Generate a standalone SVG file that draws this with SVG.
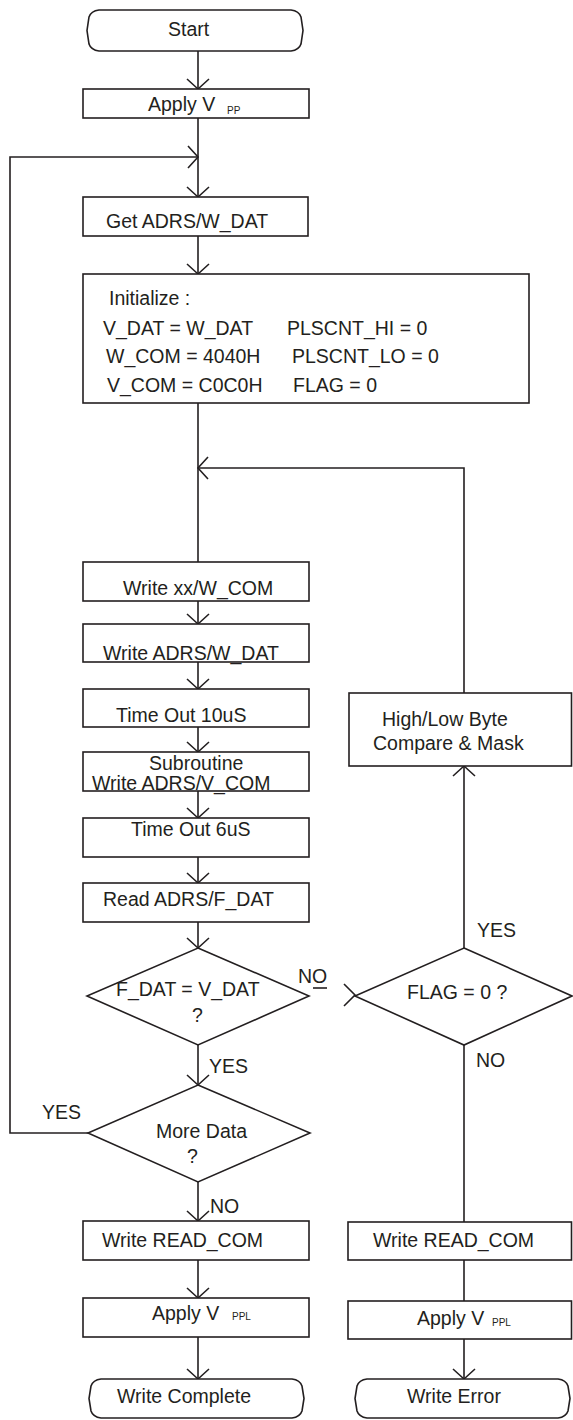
<svg xmlns="http://www.w3.org/2000/svg" width="573" height="1420" viewBox="0 0 573 1420">
<style>
.s{fill:#fff;stroke:#231f20;stroke-width:1.6}
.c{fill:none;stroke:#231f20;stroke-width:1.6}
text{font-family:"Liberation Sans",Arial,sans-serif;font-size:19.5px;fill:#231f20}
.sub{font-size:10px}
</style>
<defs>
<marker id="ah" markerUnits="userSpaceOnUse" orient="auto" refX="0" refY="0" markerWidth="30" markerHeight="30" overflow="visible">
<path d="M-10,-11 L0,0 L-10,11" fill="none" stroke="#231f20" stroke-width="1.6"/>
</marker>
</defs>
<rect width="573" height="1420" fill="#fff"/>
<g id="connectors">
<path class="c" d="M198,51 V89" marker-end="url(#ah)"/>
<path class="c" d="M198,118 V197" marker-end="url(#ah)"/>
<path class="c" d="M88,1133 H10 V157 H198" marker-end="url(#ah)"/>
<path class="c" d="M198,236 V274" marker-end="url(#ah)"/>
<path class="c" d="M198,403 V562"/>
<path class="c" d="M464,693 V468 H198" marker-end="url(#ah)"/>
<path class="c" d="M198,601 V624" marker-end="url(#ah)"/>
<path class="c" d="M198,662 V689" marker-end="url(#ah)"/>
<path class="c" d="M198,727 V752" marker-end="url(#ah)"/>
<path class="c" d="M198,791 V818" marker-end="url(#ah)"/>
<path class="c" d="M198,857 V883" marker-end="url(#ah)"/>
<path class="c" d="M198,922 V948" marker-end="url(#ah)"/>
<path class="c" d="M198,1045 V1085" marker-end="url(#ah)"/>
<path class="c" d="M198,1182 V1221" marker-end="url(#ah)"/>
<path class="c" d="M198,1260 V1298" marker-end="url(#ah)"/>
<path class="c" d="M198,1337 V1379" marker-end="url(#ah)"/>
<path class="c" d="M464,948 V766" marker-end="url(#ah)"/>
<path class="c" d="M464,1045 V1222"/>
<path class="c" d="M464,1260 V1301"/>
<path class="c" d="M464,1339 V1379" marker-end="url(#ah)"/>
<path class="c" d="M344,984 L355,995 L344,1006"/>
<path class="c" d="M313,988 H327"/>
<text x="298" y="983">NO</text>
<text x="477" y="937">YES</text>
<text x="476" y="1067">NO</text>
<text x="209" y="1073">YES</text>
<text x="42" y="1119">YES</text>
<text x="210" y="1213">NO</text>
</g>
<g id="start">
<path class="s" d="M99,10 H291 Q299,11 301,17 L303,30.5 L301,44 Q299,50 291,51 H99 Q91,50 89,44 L87,30.5 L89,17 Q91,11 99,10 Z"/>
<text x="168" y="36">Start</text>
</g>
<g id="apply-vpp">
<rect class="s" x="83" y="89" width="226" height="29"/>
<text x="148" y="111">Apply V</text>
<text class="sub" x="227" y="114">PP</text>
</g>
<g id="get-adrs">
<rect class="s" x="83" y="197" width="225" height="39"/>
<text x="106" y="228">Get ADRS/W_DAT</text>
</g>
<g id="initialize">
<rect class="s" x="83" y="274" width="446" height="129"/>
<text x="109" y="305">Initialize :</text>
<text x="103" y="335">V_DAT = W_DAT</text>
<text x="287" y="335">PLSCNT_HI = 0</text>
<text x="106" y="363">W_COM = 4040H</text>
<text x="292" y="363">PLSCNT_LO = 0</text>
<text x="107" y="392">V_COM = C0C0H</text>
<text x="293" y="392">FLAG = 0</text>
</g>
<g id="write-xx">
<rect class="s" x="83" y="562" width="226" height="39"/>
<text x="123" y="595">Write xx/W_COM</text>
</g>
<g id="write-adrs-wdat">
<rect class="s" x="83" y="624" width="226" height="38"/>
<text x="103" y="660">Write ADRS/W_DAT</text>
</g>
<g id="timeout-10">
<rect class="s" x="83" y="689" width="226" height="38"/>
<text x="116" y="722">Time Out 10uS</text>
</g>
<g id="subroutine">
<rect class="s" x="83" y="752" width="226" height="39"/>
<text x="149" y="770">Subroutine</text>
<text x="92" y="790">Write ADRS/V_COM</text>
</g>
<g id="timeout-6">
<rect class="s" x="83" y="818" width="226" height="39"/>
<text x="131" y="836">Time Out 6uS</text>
</g>
<g id="read-adrs">
<rect class="s" x="83" y="883" width="226" height="39"/>
<text x="103" y="906">Read ADRS/F_DAT</text>
</g>
<g id="fdat-check">
<polygon class="s" points="198,948 309,996 198,1045 87,996"/>
<text x="116" y="996">F_DAT = V_DAT</text>
<text x="192" y="1022">?</text>
</g>
<g id="more-data">
<polygon class="s" points="198,1085 310,1133 198,1182 88,1133"/>
<text x="156" y="1138">More Data</text>
<text x="187" y="1163">?</text>
</g>
<g id="write-read-com-left">
<rect class="s" x="83" y="1221" width="226" height="39"/>
<text x="102" y="1247">Write READ_COM</text>
</g>
<g id="apply-vppl-left">
<rect class="s" x="83" y="1298" width="226" height="39"/>
<text x="152" y="1320">Apply V</text>
<text class="sub" x="232" y="1320">PPL</text>
</g>
<g id="write-complete">
<path class="s" d="M101,1379 H292 Q300,1380 302,1386 L304,1398.5 L302,1411 Q300,1417 292,1418 H101 Q93,1417 91,1411 L89,1398.5 L91,1386 Q93,1380 101,1379 Z"/>
<text x="117" y="1403">Write Complete</text>
</g>
<g id="high-low">
<rect class="s" x="349" y="693" width="222.5" height="73"/>
<text x="382" y="726">High/Low Byte</text>
<text x="373" y="750">Compare &amp; Mask</text>
</g>
<g id="flag-check">
<polygon class="s" points="464,948 572,996 464,1045 355,996"/>
<text x="407" y="999">FLAG = 0 ?</text>
</g>
<g id="write-read-com-right">
<rect class="s" x="348" y="1222" width="223.5" height="38"/>
<text x="373" y="1247">Write READ_COM</text>
</g>
<g id="apply-vppl-right">
<rect class="s" x="348" y="1301" width="223.5" height="38"/>
<text x="417" y="1325">Apply V</text>
<text class="sub" x="492" y="1326">PPL</text>
</g>
<g id="write-error">
<path class="s" d="M367,1379 H558 Q566,1380 568,1386 L570,1398.5 L568,1411 Q566,1417 558,1418 H367 Q359,1417 357,1411 L355,1398.5 L357,1386 Q359,1380 367,1379 Z"/>
<text x="407" y="1403">Write Error</text>
</g>
</svg>
